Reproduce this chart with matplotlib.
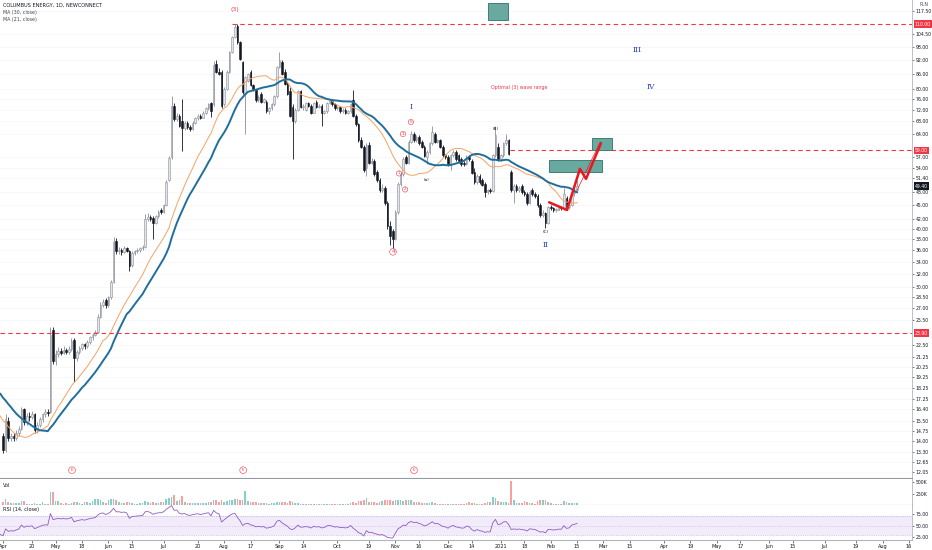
import numpy as np
import pandas as pd
import matplotlib
matplotlib.use("Agg")
import matplotlib.pyplot as plt
from matplotlib.patches import Rectangle
import matplotlib.transforms as mtransforms

# trading calendar (GPW holidays skipped)
holidays = ['2020-04-10', '2020-04-13', '2020-05-01', '2020-06-11', '2020-11-11',
            '2020-12-24', '2020-12-25', '2020-12-31', '2021-01-01', '2021-01-06',
            '2021-04-02', '2021-04-05', '2021-05-03', '2021-06-03']
days = pd.bdate_range('2020-04-01', '2021-09-30', freq='C', holidays=holidays)

# closes of March 2020, only used to seed the moving averages and the RSI
pre_closes = [23.5, 23.0, 22.8, 22.0, 22.5, 21.8, 21.0, 21.5, 20.5, 20.0,
              19.5, 20.2, 19.0, 18.5, 17.8, 17.0, 16.5, 17.2, 15.8, 14.5,
              13.2, 12.8, 13.5, 14.0, 13.6, 13.2, 13.8, 14.2, 13.9, 14.3]

opens = [14.4, 13.4, 15.5, 14.2, 14.4, 14.2, 14.6, 14.9, 16.4, 15.4,
         15.9, 15.8, 16.0, 14.8, 15.2, 15.6, 16.0, 16.2, 16.2, 24.3,
         20.8, 21.5, 21.9, 21.7, 22.0, 21.8, 22.1, 23.1, 21.1, 21.8,
         22.2, 22.6, 22.4, 22.9, 23.4, 23.7, 24.0, 25.9, 27.5, 28.2,
         27.4, 28.5, 30.8, 37.6, 35.8, 36.0, 35.7, 36.3, 35.9, 33.5,
         35.5, 35.8, 36.0, 36.3, 36.6, 42.0, 42.5, 42.3, 41.2, 42.6,
         44.0, 43.5, 45.0, 51.0, 57.0, 73.5, 68.8, 70.0, 68.0, 65.8,
         67.5, 66.0, 65.5, 67.5, 69.0, 70.0, 69.3, 71.0, 72.5, 74.5,
         74.0, 90.5, 87.0, 87.0, 74.0, 80.0, 87.0, 96.0, 103.0, 109.0,
         100.5, 91.0, 78.0, 83.0, 87.0, 81.5, 79.5, 75.5, 78.0, 75.0,
         75.0, 71.5, 72.5, 74.0, 77.0, 89.0, 91.0, 87.0, 82.0, 79.0,
         73.0, 68.0, 72.0, 79.0, 73.0, 72.0, 74.5, 73.5, 71.0, 75.0,
         73.0, 73.5, 71.0, 71.5, 74.5, 75.5, 74.0, 72.5, 73.0, 71.5,
         72.0, 71.0, 71.5, 75.5, 70.0, 67.0, 62.0, 60.0, 54.0, 60.5,
         55.5, 56.0, 53.0, 51.0, 48.5, 49.0, 45.5, 40.5, 39.5, 38.0,
         43.5, 50.0, 52.5, 57.0, 55.5, 61.5, 64.0, 62.0, 63.0, 61.5,
         60.0, 57.0, 58.5, 61.0, 64.0, 61.5, 62.0, 60.0, 57.5, 57.0,
         55.0, 57.5, 58.5, 57.5, 56.5, 55.5, 55.0, 57.0, 56.0, 53.0,
         50.5, 52.0, 51.0, 50.0, 48.0, 48.5, 48.2, 57.5, 60.0, 56.5,
         57.5, 61.0, 62.0, 53.0, 48.5, 49.5, 48.5, 49.5, 48.0, 47.5,
         45.5, 48.5, 47.5, 47.0, 45.0, 42.8, 43.2, 41.2, 44.5, 44.3,
         43.8, 44.0, 44.5, 44.3, 46.5, 44.5, 45.0, 47.8, 48.5]
highs = [14.6, 16.0, 15.8, 14.6, 14.6, 14.8, 15.1, 16.6, 16.5, 16.1,
         16.2, 16.3, 16.1, 15.4, 15.8, 16.1, 16.4, 16.4, 24.6, 24.6,
         22.0, 22.3, 22.2, 22.4, 22.2, 22.4, 23.3, 23.3, 22.0, 22.4,
         22.8, 22.8, 23.1, 23.6, 23.9, 24.3, 26.2, 27.8, 28.3, 28.4,
         28.7, 31.0, 38.5, 38.2, 36.5, 36.4, 36.8, 36.6, 36.1, 35.8,
         36.1, 36.3, 36.6, 36.9, 43.0, 43.2, 42.9, 42.6, 42.9, 43.8,
         44.3, 45.3, 50.9, 57.2, 77.0, 74.5, 70.8, 70.5, 76.0, 68.0,
         68.2, 66.8, 68.0, 69.5, 70.5, 70.6, 71.5, 73.0, 74.6, 75.0,
         91.5, 92.0, 88.5, 87.5, 80.5, 87.5, 96.5, 103.5, 110.0, 110.0,
         101.0, 91.5, 85.0, 86.5, 87.5, 82.0, 80.0, 77.5, 78.5, 76.5,
         75.5, 73.0, 74.5, 77.5, 89.5, 96.0, 92.0, 88.0, 82.5, 80.5,
         74.0, 72.5, 79.5, 79.5, 74.0, 75.0, 75.0, 74.0, 75.0, 75.5,
         74.0, 74.0, 72.0, 75.0, 76.0, 76.0, 74.5, 73.5, 73.5, 72.5,
         72.5, 72.0, 74.5, 79.5, 70.5, 67.5, 63.0, 60.5, 61.0, 61.5,
         56.8, 56.5, 53.5, 51.5, 49.8, 49.5, 46.0, 41.5, 40.0, 44.0,
         50.5, 53.0, 57.0, 57.5, 62.0, 65.0, 64.5, 63.5, 63.5, 62.0,
         60.5, 59.0, 61.5, 66.5, 64.5, 62.5, 62.5, 60.5, 58.0, 57.5,
         58.0, 59.0, 59.0, 58.0, 57.0, 56.0, 57.5, 57.5, 56.5, 54.0,
         52.5, 52.5, 51.5, 50.5, 48.8, 49.0, 58.0, 66.5, 61.0, 58.0,
         61.5, 64.0, 62.5, 53.5, 50.0, 50.0, 49.5, 50.0, 48.5, 48.0,
         48.5, 49.0, 48.0, 47.5, 45.5, 43.8, 43.5, 44.8, 45.0, 44.6,
         44.3, 44.8, 44.8, 49.0, 47.0, 45.5, 48.5, 49.5, 51.0]
lows = [13.2, 13.3, 14.0, 14.0, 14.0, 14.1, 14.4, 14.8, 15.2, 15.2,
        15.5, 15.6, 14.6, 14.6, 15.0, 15.4, 15.8, 15.9, 16.1, 20.5,
        20.4, 21.2, 21.4, 21.5, 21.5, 21.6, 21.9, 18.8, 20.8, 21.5,
        22.0, 22.1, 22.2, 22.7, 23.1, 23.5, 23.9, 25.7, 27.2, 27.0,
        27.2, 28.3, 30.6, 35.4, 35.3, 35.2, 35.5, 35.6, 32.4, 33.2,
        35.2, 35.5, 35.7, 36.0, 36.4, 41.5, 41.6, 38.0, 41.0, 42.3,
        43.0, 43.2, 44.8, 50.6, 56.5, 68.2, 68.0, 66.0, 58.7, 65.2,
        65.6, 64.8, 65.2, 67.0, 68.5, 68.8, 69.0, 70.6, 72.0, 69.5,
        73.5, 86.5, 85.5, 72.8, 73.5, 79.5, 86.5, 95.5, 102.5, 99.5,
        92.0, 78.0, 64.0, 82.5, 81.0, 79.0, 75.0, 75.0, 74.5, 74.5,
        71.0, 70.5, 72.0, 73.5, 76.5, 88.5, 85.5, 81.5, 77.5, 69.5,
        56.5, 67.5, 71.5, 72.5, 72.0, 71.5, 73.0, 70.5, 70.8, 72.5,
        72.5, 66.5, 70.5, 71.0, 74.0, 73.5, 72.0, 72.0, 71.0, 71.0,
        70.5, 70.5, 71.0, 69.5, 66.5, 61.5, 59.5, 53.0, 52.0, 55.0,
        55.0, 52.0, 50.5, 48.0, 48.0, 45.0, 40.0, 37.0, 36.3, 37.8,
        43.0, 49.5, 52.0, 55.0, 55.0, 61.0, 61.5, 61.5, 60.5, 59.5,
        57.0, 55.2, 58.0, 60.5, 61.0, 61.0, 59.5, 57.0, 56.5, 54.5,
        53.5, 57.0, 56.0, 55.5, 54.5, 54.5, 54.8, 56.0, 52.5, 50.0,
        50.0, 50.0, 49.5, 46.7, 47.5, 47.8, 48.0, 57.0, 56.0, 56.0,
        57.0, 60.5, 57.5, 48.0, 45.5, 48.0, 48.0, 47.5, 47.0, 45.0,
        45.2, 47.0, 46.5, 44.5, 42.5, 42.5, 40.2, 41.0, 44.0, 43.5,
        43.5, 43.8, 44.0, 44.0, 44.0, 44.2, 44.8, 47.0, 48.2]
closes = [13.4, 15.6, 14.2, 14.4, 14.2, 14.6, 14.9, 16.4, 15.4, 15.9,
          15.8, 16.0, 14.8, 15.2, 15.6, 16.0, 16.2, 16.1, 23.7, 20.8,
          21.5, 21.9, 21.7, 22.0, 21.8, 22.1, 23.0, 21.1, 21.8, 22.2,
          22.6, 22.4, 22.9, 23.4, 23.7, 24.0, 25.9, 27.5, 27.9, 27.4,
          28.5, 30.8, 37.5, 35.8, 36.0, 35.7, 36.3, 35.9, 33.3, 35.5,
          35.8, 36.0, 36.3, 36.6, 42.0, 42.5, 42.0, 41.2, 42.6, 43.4,
          43.5, 45.0, 50.5, 56.8, 73.5, 68.8, 70.0, 66.5, 65.8, 67.5,
          66.0, 65.5, 67.5, 69.0, 70.0, 69.3, 71.0, 72.5, 74.0, 71.5,
          90.0, 87.0, 86.0, 73.5, 80.0, 87.0, 96.0, 103.0, 108.5, 100.5,
          92.5, 78.5, 84.5, 86.0, 81.5, 79.7, 75.5, 76.8, 75.0, 76.0,
          71.5, 72.5, 74.0, 77.0, 89.0, 92.0, 86.0, 82.0, 78.0, 70.0,
          68.0, 72.0, 79.0, 73.0, 73.5, 74.5, 73.5, 71.0, 74.5, 73.0,
          73.5, 71.0, 71.5, 74.5, 75.5, 74.0, 72.5, 73.0, 71.5, 72.0,
          71.0, 71.5, 74.0, 70.0, 67.0, 62.0, 60.0, 53.5, 60.5, 55.5,
          56.0, 52.5, 51.0, 48.5, 49.0, 45.5, 40.5, 38.6, 38.0, 43.5,
          50.0, 52.5, 56.5, 55.5, 61.5, 64.0, 62.0, 63.0, 61.0, 59.8,
          57.2, 58.5, 61.0, 64.5, 61.5, 62.0, 60.0, 57.5, 57.0, 55.0,
          57.5, 58.5, 56.5, 56.0, 55.0, 55.0, 57.0, 56.5, 52.8, 50.5,
          52.0, 50.5, 49.7, 48.0, 48.5, 48.2, 57.5, 63.5, 56.5, 57.5,
          61.0, 62.0, 58.0, 48.5, 49.5, 48.5, 49.0, 48.0, 47.5, 45.5,
          48.0, 47.5, 47.0, 45.0, 42.8, 43.2, 41.2, 44.5, 44.3, 43.8,
          44.0, 44.5, 44.3, 47.5, 44.5, 45.0, 47.8, 48.5, 49.4]
# volume in thousands of shares
volume = [60, 135, 70, 40, 35, 40, 45, 90, 85, 30,
          20, 25, 35, 20, 18, 55, 30, 25, 290, 290,
          90, 80, 40, 30, 35, 25, 45, 75, 60, 40,
          30, 70, 60, 45, 90, 130, 135, 120, 60, 50,
          100, 130, 135, 120, 60, 50, 40, 55, 60, 45,
          30, 25, 35, 40, 80, 75, 50, 70, 45, 40,
          55, 70, 140, 150, 170, 230, 90, 110, 190, 60,
          50, 45, 40, 35, 45, 40, 50, 45, 70, 60,
          110, 120, 70, 100, 60, 90, 120, 110, 130, 140,
          110, 100, 300, 80, 70, 60, 55, 50, 45, 40,
          40, 30, 35, 35, 55, 75, 60, 55, 50, 80,
          70, 45, 40, 30, 25, 20, 25, 20, 25, 20,
          20, 25, 15, 20, 18, 15, 20, 15, 18, 15,
          20, 25, 40, 60, 50, 90, 80, 100, 160, 70,
          60, 55, 50, 60, 80, 100, 120, 110, 90, 100,
          120, 110, 95, 100, 120, 110, 70, 60, 55, 45,
          40, 35, 45, 60, 35, 30, 25, 25, 20, 25,
          30, 25, 20, 30, 25, 30, 40, 55, 50, 35,
          30, 25, 30, 40, 60, 75, 170, 160, 90, 60,
          75, 70, 50, 530, 120, 45, 35, 40, 85, 60,
          45, 40, 30, 90, 110, 120, 105, 60, 40, 30,
          25, 20, 30, 85, 70, 40, 45, 50, 40]

price_ticks = [117.5, 104.5, 98, 92, 86, 80, 76, 72, 68, 64, 57, 54, 51.4, 48, 45,
               42, 40, 38, 36, 34, 32, 30, 28.5, 27, 25.5, 22.5, 21.25, 20.25,
               19.25, 18.25, 17.25, 16.4, 15.5, 14.75, 14.0, 13.3, 12.65, 12.05]
levels = [110.0, 59.0, 23.9]
tick_dates = ['2020-04-01', '2020-04-20', '2020-05-04', '2020-05-18', '2020-06-01',
              '2020-06-15', '2020-07-01', '2020-07-20', '2020-08-03', '2020-08-17',
              '2020-09-01', '2020-09-14', '2020-10-01', '2020-10-19', '2020-11-02',
              '2020-11-16', '2020-12-01', '2020-12-14', '2021-01-04', '2021-01-18',
              '2021-02-01', '2021-02-15', '2021-03-01', '2021-03-15', '2021-04-01',
              '2021-04-19', '2021-05-04', '2021-05-17', '2021-06-01', '2021-06-15',
              '2021-07-01', '2021-07-19', '2021-08-02', '2021-08-16']
tick_labels = ['Apr', '20', 'May', '18', 'Jun', '15', 'Jul', '20', 'Aug', '17',
               'Sep', '14', 'Oct', '19', 'Nov', '16', 'Dec', '14', '2021', '18',
               'Feb', '15', 'Mar', '15', 'Apr', '19', 'May', '17', 'Jun', '15',
               'Jul', '19', 'Aug', '16']

RED = '#f23645'
TEXT = '#131722'
GRID = '#b2b5be'
FS = 3.3

o = np.array(opens); h = np.array(highs); l = np.array(lows); c = np.array(closes)
v = np.array(volume)
x = np.arange(len(c))
up = c >= o

# indicators
allc = pd.Series(pre_closes + closes)
xa = np.arange(len(allc)) - len(pre_closes)
ma30 = allc.rolling(30).mean()
ma21 = allc.rolling(21).mean()
d = allc.diff()
ag = d.clip(lower=0).ewm(alpha=1 / 14, adjust=False).mean()
al = (-d.clip(upper=0)).ewm(alpha=1 / 14, adjust=False).mean()
rsi = 100 - 100 / (1 + ag / al)

fig = plt.figure(figsize=(9.32, 5.5), dpi=100)
W = 912 / 932
ax = fig.add_axes([0, 1 - 478 / 550, W, 478 / 550])
axv = fig.add_axes([0, 1 - 505 / 550, W, 26 / 550], sharex=ax)
axr = fig.add_axes([0, 1 - 540 / 550, W, 35 / 550], sharex=ax)

# candles
ax.vlines(x[up], l[up], h[up], color='#8a8e99', lw=0.6, zorder=2)
ax.vlines(x[~up], l[~up], h[~up], color=TEXT, lw=0.6, zorder=2)
body = np.maximum(np.abs(c - o), c * 0.006)
ax.bar(x[up], body[up], bottom=np.minimum(o, c)[up], width=0.62,
       color='#e3e5ea', edgecolor='#8a8e99', linewidth=0.4, zorder=3)
ax.bar(x[~up], body[~up], bottom=np.minimum(o, c)[~up], width=0.62,
       color=TEXT, edgecolor=TEXT, linewidth=0.4, zorder=3)
ax.plot(xa, ma21, color='#f5a262', lw=0.7, zorder=4)
ax.plot(xa, ma30, color='#1f6e9c', lw=1.4, zorder=4)

ax.set_yscale('log')
ax.set_ylim(11.68, 123.9)
ax.set_xlim(-1.14, 345.2)
ax.minorticks_off()
ax.yaxis.tick_right()
ax.set_yticks(price_ticks)
ax.set_yticklabels(['%.2f' % p for p in price_ticks])
ax.tick_params(axis='y', labelsize=FS, colors=TEXT, length=1.5, width=0.4, pad=1)
ax.tick_params(axis='x', bottom=False, labelbottom=False)
for p in price_ticks:
    ax.axhline(p, color='#f4f5f8', lw=0.5, zorder=0)
for s in ['top', 'left']:
    ax.spines[s].set_visible(False)
ax.spines['right'].set_color(GRID)
ax.spines['bottom'].set_color('#9598a1')
ax.spines['right'].set_linewidth(0.6)

# horizontal levels
start = [87, 192.6, -1.14]
for lev, s0 in zip(levels, start):
    ax.hlines(lev, s0, 345.2, color=RED, lw=0.8, linestyles=(0, (4, 3)), zorder=5)
trans = mtransforms.blended_transform_factory(ax.transAxes, ax.transData)
for lev in levels:
    ax.text(1.003, lev, '%.2f' % lev, transform=trans, fontsize=FS, color='white',
            va='center', ha='left', clip_on=False,
            bbox=dict(boxstyle='square,pad=0.25', fc=RED, ec='none'))
ax.text(1.003, c[-1], '%.2f' % c[-1], transform=trans, fontsize=FS, color='white',
        va='center', ha='left', clip_on=False,
        bbox=dict(boxstyle='square,pad=0.25', fc=TEXT, ec='none'))

# target boxes
for (x0, x1, y0, y1) in [(184.2, 191.8, 112, 122), (207.4, 227.5, 53.0, 56.2),
                         (223.7, 231.3, 59.0, 62.6)]:
    ax.add_patch(Rectangle((x0, y0), x1 - x0, y1 - y0, fc='#6aa9a0', ec='#3d7f77',
                           lw=0.7, zorder=6))

# projected path
ax.plot([207.4, 214.2, 219.1, 221.4, 227.1], [45.6, 43.9, 53.8, 51.2, 61.1],
        color='#e8181f', lw=1.8, zorder=7, solid_capstyle='round')
ax.plot([218, 226.7], [48.4, 61.3], color='#e8181f', lw=0.5, zorder=7)

# wave labels
ax.text(88.1, 118.5, '(3)', color=RED, fontsize=4.5, ha='center', va='center')
for t, xx, yy in [('I', 155, 73.0), ('II', 206.2, 37.0), ('III', 240.8, 96.7),
                  ('IV', 246.1, 80.6)]:
    ax.text(xx, yy, t, color='#2f3ec4', fontsize=5.5, ha='center', va='center',
            family='DejaVu Serif')
ax.text(196, 80.6, 'Optimal (3) wave range', color=RED, fontsize=3.4,
        ha='center', va='center')
for t, xx, yy, fs in [('4', 148.1, 35.7, 4), ('3', 151.9, 63.9, 3),
                      ('5', 154.9, 67.8, 3), ('1', 150.4, 52.6, 3),
                      ('2', 152.7, 48.6, 3)]:
    ax.text(xx, yy, t, color=RED, fontsize=fs, ha='center', va='center',
            bbox=dict(boxstyle='circle,pad=0.15', fc='none', ec=RED, lw=0.4))
for t, xx, yy in [('(a)', 161, 50.9), ('(B)', 187.2, 65.5), ('(C)', 206.2, 39.3)]:
    ax.text(xx, yy, t, color=TEXT, fontsize=3, ha='center', va='center')
for xx in [26.2, 91.2, 156.1]:
    ax.text(xx, 12.14, 'E', color=RED, fontsize=2.8, ha='center', va='center',
            bbox=dict(boxstyle='circle,pad=0.35', fc='white', ec=RED, lw=0.4))

# legend text
ax.text(0.003, 0.994, 'COLUMBUS ENERGY, 1D, NEWCONNECT', transform=ax.transAxes,
        fontsize=3.6, color=TEXT, va='top')
ax.text(0.003, 0.979, 'MA (30, close)', transform=ax.transAxes, fontsize=3.4,
        color='#434651', va='top')
ax.text(0.003, 0.964, 'MA (21, close)', transform=ax.transAxes, fontsize=3.4,
        color='#434651', va='top')
fig.text(0.9915, 0.997, 'PLN', fontsize=FS, color='#434651', ha='center', va='top')

# volume
axv.bar(x[up], v[up], width=0.62, color='#26a69a', alpha=0.55)
axv.bar(x[~up], v[~up], width=0.62, color='#ef5350', alpha=0.55)
axv.set_ylim(0, 570)
axv.yaxis.tick_right()
axv.set_yticks([250, 500])
axv.set_yticklabels(['250K', '500K'])
axv.tick_params(axis='y', labelsize=FS, colors=TEXT, length=1.5, width=0.4, pad=1)
axv.tick_params(axis='x', bottom=False, labelbottom=False)
for s in ['top', 'left']:
    axv.spines[s].set_visible(False)
axv.spines['right'].set_color(GRID)
axv.spines['bottom'].set_color('#9598a1')
axv.spines['right'].set_linewidth(0.6)
axv.text(0.003, 0.85, 'Vol', transform=axv.transAxes, fontsize=3.6, color=TEXT, va='top')

# RSI
axr.axhspan(30, 70, color='#9c6ad6', alpha=0.13, lw=0)
for lv, ls in [(70, (0, (2, 2))), (30, (0, (2, 2))), (50, (0, (1, 2)))]:
    axr.axhline(lv, color='#b39ddb', lw=0.4, ls=ls)
axr.plot(xa, rsi, color='#8e5cc4', lw=0.6)
axr.set_ylim(18.5, 94.6)
axr.yaxis.tick_right()
axr.set_yticks([25, 50, 75])
axr.set_yticklabels(['25.00', '50.00', '75.00'])
axr.tick_params(axis='y', labelsize=FS, colors=TEXT, length=1.5, width=0.4, pad=1)
pos = [days.searchsorted(pd.Timestamp(t)) for t in tick_dates]
axr.set_xticks(pos)
axr.set_xticklabels(tick_labels)
axr.tick_params(axis='x', labelsize=3.6, colors=TEXT, length=2, width=0.4, pad=1)
for s in ['top', 'left']:
    axr.spines[s].set_visible(False)
axr.spines['right'].set_color(GRID)
axr.spines['bottom'].set_color(GRID)
axr.spines['right'].set_linewidth(0.6)
axr.text(0.003, 0.93, 'RSI (14, close)', transform=axr.transAxes, fontsize=3.6,
         color=TEXT, va='top')

fig.savefig('out.png', dpi=100)
